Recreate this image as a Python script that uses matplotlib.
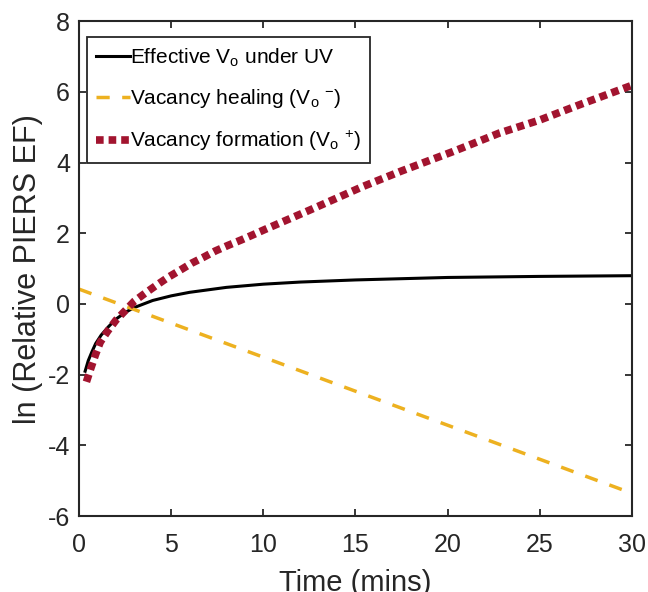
import matplotlib
matplotlib.use("Agg")
import matplotlib.pyplot as plt

plt.rcParams['font.family'] = ['Liberation Sans', 'DejaVu Sans']
plt.rcParams['mathtext.fontset'] = 'custom'
plt.rcParams['mathtext.rm'] = 'Liberation Sans'
plt.rcParams['mathtext.it'] = 'Liberation Sans'
plt.rcParams['axes.unicode_minus'] = False

# valores
t_efectivo = [0.33, 0.5, 0.7, 0.9, 1.2, 1.6, 2.0, 2.5, 3.0, 4.0, 5.0, 6.0, 8.0, 10.0, 12.0, 15.0, 20.0, 25.0, 30.0]
y_efectivo = [-1.9, -1.6, -1.35, -1.12, -0.88, -0.64, -0.43, -0.24, -0.1, 0.1, 0.23, 0.33, 0.47, 0.56, 0.62, 0.68, 0.75, 0.78, 0.8]

t_healing = [0.0, 30.0]
y_healing = [0.42, -5.35]

t_formacion = [0.4, 0.65, 0.9, 1.15, 1.55, 2.0, 2.5, 3.0, 3.6, 4.2, 4.85, 5.5, 6.1, 6.75, 7.4, 8.1,
               8.8, 9.5, 10.1, 12.5, 15.4, 17.5, 20.3, 22.8, 25.0, 27.2, 30.0]
y_formacion = [-2.2, -1.8, -1.42, -1.08, -0.77, -0.46, -0.19, 0.08, 0.31, 0.53, 0.76, 0.96, 1.15, 1.32,
               1.5, 1.66, 1.81, 1.97, 2.11, 2.65, 3.32, 3.76, 4.31, 4.83, 5.2, 5.64, 6.18]

etiquetas = [r'Effective V$_\mathrm{o}$ under UV',
             r'Vacancy healing (V$_\mathrm{o}$ $^{-}$)',
             r'Vacancy formation (V$_\mathrm{o}$ $^{+}$)']

gris = '#262626'
fig = plt.figure(figsize=(6.48, 5.92), dpi=100)
ax = fig.add_axes([0.122, 0.128, 0.853, 0.8365])

ax.plot(t_efectivo, y_efectivo, color='black', lw=2.2, label=etiquetas[0])
ax.plot(t_healing, y_healing, color='#EDB120', lw=2.5, dashes=(3.8, 3.6), label=etiquetas[1])
ax.plot(t_formacion, y_formacion, color='#A2142F', lw=5.5, dashes=(1, 0.65),
        dash_capstyle='butt', label=etiquetas[2])

ax.set_xlim(0, 30)
ax.set_ylim(-6, 8)
ax.set_xticks(range(0, 31, 5))
ax.set_yticks(range(-6, 9, 2))
ax.tick_params(direction='in', top=True, right=True, length=5, width=1.3,
               labelsize=18, colors=gris)
ax.tick_params(axis='x', pad=12)
ax.tick_params(axis='y', pad=6.5)
for s in ax.spines.values():
    s.set_linewidth(1.5)
    s.set_color(gris)

ax.set_xlabel('Time (mins)', fontsize=21, color=gris, labelpad=9)
ax.set_ylabel('ln (Relative PIERS EF)', fontsize=22, color=gris, labelpad=3)

leg = ax.legend(loc='upper left', bbox_to_anchor=(0.0145, 0.968), fontsize=15,
                fancybox=False, framealpha=1, edgecolor=gris, handlelength=1.6,
                handletextpad=0.0, borderpad=0.45, labelspacing=0.9, borderaxespad=0)
leg.get_frame().set_linewidth(1.3)

fig.savefig('out.png', dpi=100)
